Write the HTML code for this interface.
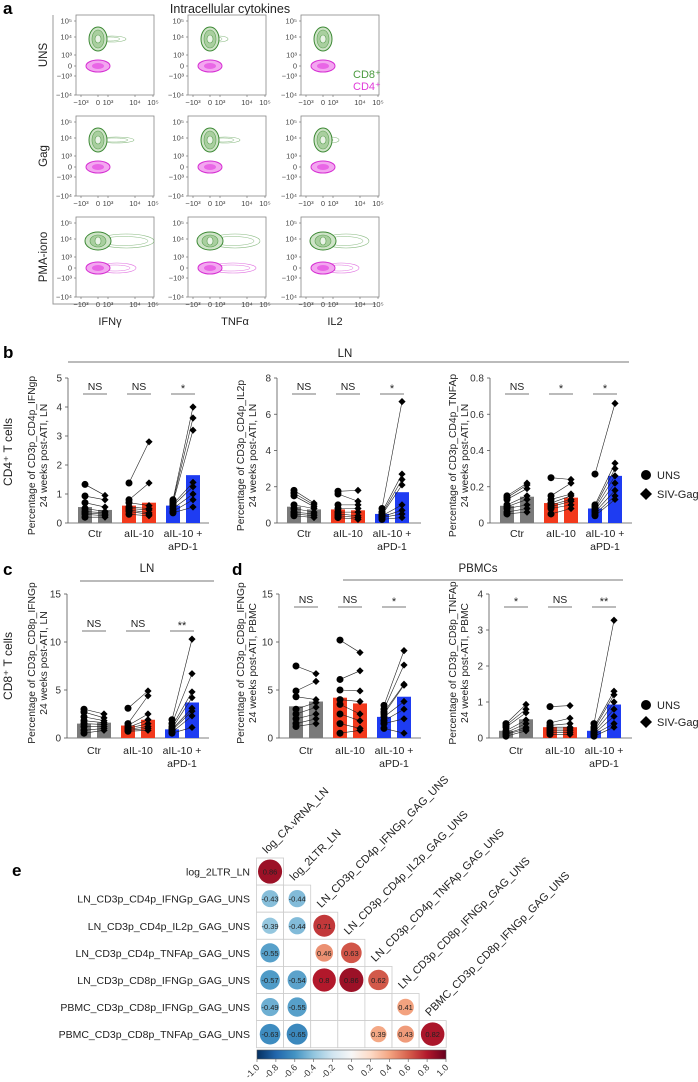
<!DOCTYPE html>
<html><head><meta charset="utf-8">
<style>
html,body{margin:0;padding:0;background:#fff;}
svg{display:block;font-family:"Liberation Sans",sans-serif;}
</style></head>
<body>
<svg id="fig" width="698" height="1082" viewBox="0 0 698 1082" xmlns="http://www.w3.org/2000/svg"></svg>
<script>
// ---------- DATA ----------
const groups = ["Ctr","aIL-10","aIL-10 +"];
// panel b1: CD4 IFNg LN
const b1Uns = [[1.33,0.93,0.7,0.5,0.4,0.35,0.3,0.2],[1.38,0.8,0.7,0.55,0.5,0.45,0.4,0.3],[0.8,0.75,0.7,0.65,0.6,0.5,0.4,0.35]];
const b1Gag = [[0.95,0.8,0.55,0.4,0.35,0.3,0.25,0.2],[2.8,1.38,0.6,0.5,0.45,0.35,0.3,0.25],[4.0,3.62,3.2,1.4,1.25,1.0,0.8,0.55]];
const b1BarU = [0.55,0.6,0.6];
const b1BarG = [0.45,0.7,1.65];
const b1Sig = ["NS","NS","*"];
const b1Ticks = [0,1,2,3,4,5];
// panel b2: CD4 IL2 LN
const b2Uns = [[1.8,1.65,1.5,1.0,0.8,0.6,0.5,0.4],[1.75,1.6,1.0,0.8,0.6,0.5,0.4,0.3],[0.8,0.6,0.5,0.45,0.4,0.35,0.3,0.2]];
const b2Gag = [[1.1,1.0,0.9,0.8,0.6,0.5,0.4,0.3],[1.8,1.2,1.0,0.8,0.6,0.4,0.3,0.2],[6.7,2.7,2.4,2.1,1.0,0.7,0.5,0.3]];
const b2BarU = [0.9,0.75,0.5];
const b2BarG = [0.75,0.7,1.7];
const b2Sig = ["NS","NS","*"];
const b2Ticks = [0,2,4,6,8];
// panel b3: CD4 TNF LN
const b3Uns = [[0.15,0.14,0.13,0.1,0.09,0.08,0.06,0.05],[0.25,0.15,0.13,0.11,0.1,0.09,0.08,0.05],[0.27,0.1,0.09,0.08,0.07,0.06,0.05,0.04]];
const b3Gag = [[0.22,0.21,0.19,0.15,0.13,0.1,0.08,0.06],[0.24,0.22,0.16,0.15,0.13,0.12,0.1,0.08],[0.66,0.33,0.3,0.26,0.22,0.18,0.15,0.13]];
const b3BarU = [0.095,0.11,0.08];
const b3BarG = [0.145,0.14,0.26];
const b3Sig = ["NS","*","*"];
const b3Ticks = [0,0.2,0.4,0.6,0.8];
// panel c: CD8 IFNg LN
const cUns = [[3.0,2.7,2.2,1.8,1.5,1.2,0.8,0.5],[3.1,1.5,1.3,1.1,1.0,0.9,0.8,0.7],[1.9,1.5,1.2,1.0,0.9,0.8,0.6,0.5]];
const cGag = [[2.5,2.1,1.8,1.6,1.4,1.2,1.0,0.8],[4.9,4.4,2.5,1.9,1.5,1.2,1.0,0.8],[10.3,6.7,4.8,4.2,3.1,2.8,2.3,1.1]];
const cBarU = [1.5,1.3,0.9];
const cBarG = [1.6,1.9,3.7];
const cSig = ["NS","NS","**"];
const cTicks = [0,5,10,15];
// panel d1: CD8 IFNg PBMC
const d1Uns = [[7.5,4.9,4.3,3.0,2.5,2.0,1.5,1.2],[10.2,6.1,5.0,4.0,3.5,2.5,1.5,0.5],[3.4,3.0,2.7,2.5,2.2,1.8,1.5,1.0]];
const d1Gag = [[6.7,5.9,4.0,3.7,3.2,2.5,2.0,1.5],[8.9,7.0,4.9,3.8,2.5,1.8,1.0,0.8],[9.1,7.6,5.6,5.5,3.8,3.0,2.0,0.5]];
const d1BarU = [3.3,4.2,2.2];
const d1BarG = [3.8,3.6,4.3];
const d1Sig = ["NS","NS","*"];
const d1Ticks = [0,5,10,15];
// panel d2: CD8 TNF PBMC
const d2Uns = [[0.4,0.35,0.3,0.2,0.15,0.12,0.1,0.05],[0.87,0.42,0.35,0.3,0.25,0.2,0.15,0.1],[0.4,0.3,0.25,0.2,0.15,0.12,0.1,0.05]];
const d2Gag = [[0.93,0.8,0.7,0.5,0.4,0.3,0.25,0.2],[0.9,0.55,0.4,0.3,0.25,0.2,0.15,0.1],[3.27,1.3,1.2,1.0,0.8,0.6,0.4,0.3]];
const d2BarU = [0.2,0.3,0.2];
const d2BarG = [0.52,0.3,0.93];
const d2Sig = ["*","NS","**"];
const d2Ticks = [0,1,2,3,4];
// panel e: correlation matrix
const corrCols = ["log_CA.vRNA_LN","log_2LTR_LN","LN_CD3p_CD4p_IFNGp_GAG_UNS","LN_CD3p_CD4p_IL2p_GAG_UNS","LN_CD3p_CD4p_TNFAp_GAG_UNS","LN_CD3p_CD8p_IFNGp_GAG_UNS","PBMC_CD3p_CD8p_IFNGp_GAG_UNS"];
const corrRows = ["log_2LTR_LN","LN_CD3p_CD4p_IFNGp_GAG_UNS","LN_CD3p_CD4p_IL2p_GAG_UNS","LN_CD3p_CD4p_TNFAp_GAG_UNS","LN_CD3p_CD8p_IFNGp_GAG_UNS","PBMC_CD3p_CD8p_IFNGp_GAG_UNS","PBMC_CD3p_CD8p_TNFAp_GAG_UNS"];
const corrVals = [[0.86],[-0.43,-0.44],[-0.39,-0.44,0.71],[-0.55,null,0.46,0.63],[-0.57,-0.54,0.8,0.86,0.62],[-0.49,-0.55,null,null,null,0.41],[-0.63,-0.65,null,null,0.39,0.43,0.82]];
const cbarTicks = [-1.0,-0.8,-0.6,-0.4,-0.2,0,0.2,0.4,0.6,0.8,1.0];

// ---------- helpers ----------
const svg = document.getElementById('fig');
const NS_ = "http://www.w3.org/2000/svg";
function el(tag, attrs, parent, text){
  const e = document.createElementNS(NS_, tag);
  for (const k in attrs) e.setAttribute(k, attrs[k]);
  if (text !== undefined) e.textContent = text;
  (parent||svg).appendChild(e);
  return e;
}
function grp(name, parent){
  const g = el('g', {}, parent);
  
  
  return g;
}
function txt(parent, x, y, s, size, opts){
  opts = opts||{};
  const t = el('text', {x:x, y:y, 'font-size':size, fill:opts.fill||'#222', 'text-anchor':opts.anchor||'start'}, parent, s);
  if (opts.weight) t.setAttribute('font-weight', opts.weight);
  if (opts.rot!==undefined) t.setAttribute('transform', `rotate(${opts.rot} ${x} ${y})`);
  
  
  return t;
}

// ---------- panel labels ----------
txt(svg, 3, 14, "a", 17, {weight:'bold', fill:'#000', name:'panel-label-a'});
txt(svg, 3, 358, "b", 17, {weight:'bold', fill:'#000', name:'panel-label-b'});
txt(svg, 3, 575, "c", 17, {weight:'bold', fill:'#000', name:'panel-label-c'});
txt(svg, 232, 575, "d", 17, {weight:'bold', fill:'#000', name:'panel-label-d'});
txt(svg, 12, 876, "e", 17, {weight:'bold', fill:'#000', name:'panel-label-e'});

// ---------- panel a: flow plots ----------
const pa = grp('panel-a-flow');
txt(pa, 230, 13, "Intracellular cytokines", 12.5, {anchor:'middle', name:'panel-a-title'});
el('path', {d:'M53 15 V304 H376', fill:'none', stroke:'#999', 'stroke-width':1}, pa);
const rowNames = ["UNS","Gag","PMA-iono"];
const colNames = ["IFNγ","TNFα","IL2"];
const boxX = [76, 188, 301];
const boxY = [15, 116, 217];
const BW = 78, BH = 80;
const greenTail = [[20,10,4],[28,22,8],[48,42,38]];
const pinkTail = [[4,2,2],[6,4,3],[30,38,28]];
rowNames.forEach((rn, ri)=>{
  txt(pa, 47, boxY[ri]+BH/2, rn, 11.5, {anchor:'middle', rot:-90, name:'row-label-'+rn.toLowerCase()});
  colNames.forEach((cn, ci)=>{
    const g = grp('flow-plot-'+rn.toLowerCase()+'-'+cn.toLowerCase(), pa);
    const x = boxX[ci], y = boxY[ri];
    el('rect', {x:x, y:y, width:BW, height:BH, fill:'#fff', stroke:'#888', 'stroke-width':0.8}, g);
    const yt = [["10⁵",6],["10⁴",22],["10³",40],["0",51],["−10³",61],["−10⁴",80]];
    yt.forEach(([s,o])=>{
      el('line',{x1:x-2,y1:y+o,x2:x,y2:y+o,stroke:'#666','stroke-width':0.6},g);
      txt(g, x-4, y+o+2.5, s, 7.5, {anchor:'end', fill:'#444', name:'y-tick'});
    });
    const xt = [["−10³",5],["0",22],["10³",32],["10⁴",59],["10⁵",77]];
    xt.forEach(([s,o])=>{
      el('line',{x1:x+o,y1:y+BH,x2:x+o,y2:y+BH+2,stroke:'#666','stroke-width':0.6},g);
      txt(g, x+o, y+BH+10, s, 7.5, {anchor:'middle', fill:'#444', name:'x-tick'});
    });
    const gx = x+22, gy = y+24, px = x+22, py = y+51;
    const gt = greenTail[ri][ci], pt = pinkTail[ri][ci];
    if (gt>6) el('ellipse',{cx:gx+gt/2+4,cy:gy,rx:gt/2+4,ry:ri==2?7:3,fill:'none',stroke:'#6aa860','stroke-width':0.6,opacity:0.8},g);
    if (gt>6) el('ellipse',{cx:gx+gt/2+2,cy:gy,rx:gt/2,ry:ri==2?4.5:2,fill:'none',stroke:'#6aa860','stroke-width':0.5,opacity:0.8},g);
    if (pt>6) el('ellipse',{cx:px+pt/2+4,cy:py,rx:pt/2+4,ry:5,fill:'none',stroke:'#e070e0','stroke-width':0.6},g);
    if (pt>6) el('ellipse',{cx:px+pt/2+2,cy:py,rx:pt/2,ry:3,fill:'none',stroke:'#e070e0','stroke-width':0.5},g);
    el('ellipse',{cx:gx,cy:gy,rx:ri==2?13:9,ry:ri==2?9:12,fill:'#cfe4c8',stroke:'#3e8a36','stroke-width':1},g);
    el('ellipse',{cx:gx,cy:gy,rx:ri==2?8:6,ry:ri==2?6:9,fill:'#a9cf9f',stroke:'#5c9f53','stroke-width':0.6},g);
    el('ellipse',{cx:gx,cy:gy,rx:3,ry:4,fill:'#e9f3e6',stroke:'#5c9f53','stroke-width':0.6},g);
    el('ellipse',{cx:px,cy:py,rx:12,ry:6,fill:'#f3a6f0',stroke:'#d630d3','stroke-width':1},g);
    el('ellipse',{cx:px,cy:py,rx:6,ry:3,fill:'#e966e6'},g);
  });
});
txt(pa, 353, 78, "CD8⁺", 11, {fill:'#4b9a3f', name:'legend-cd8'});
txt(pa, 353, 90, "CD4⁺", 11, {fill:'#e03ad9', name:'legend-cd4'});
colNames.forEach((cn,ci)=>txt(pa, [110,235,335][ci], 325, cn, 11, {anchor:'middle', name:'x-title-'+cn}));

// ---------- bar charts ----------
const colors = ['#7a7a7a','#f2391c','#1e3cf2'];
function diamond(x,y,r){ return `M${x} ${y-r} L${x+r} ${y} L${x} ${y+r} L${x-r} ${y} Z`; }
function barChart(name, ax, xEnd, yTop, y0, ticks, uns, gag, barU, barG, sig, sigY, t1, t2, tx, labY, tyOff){
  const g = grp(name);
  const ymax = ticks[ticks.length-1];
  const Y = v => y0 - (v/ymax)*(y0-yTop);
  const cx = i => ax + 27 + 44*i;
  el('line',{x1:ax,y1:yTop,x2:ax,y2:y0,stroke:'#555','stroke-width':0.8},g);
  el('line',{x1:ax,y1:y0,x2:xEnd,y2:y0,stroke:'#555','stroke-width':0.8},g);
  ticks.forEach(t=>{
    el('line',{x1:ax-3,y1:Y(t),x2:ax,y2:Y(t),stroke:'#555','stroke-width':0.8},g);
    txt(g, ax-6, Y(t)+3.5, String(t), 10, {anchor:'end', fill:'#333', name:'y-tick-label'});
  });
  groups.forEach((gn,i)=>{
    const c = cx(i);
    const bu = el('rect',{x:c-17,y:Y(barU[i]),width:14,height:y0-Y(barU[i]),fill:colors[i]},g);
    
    
    const bg = el('rect',{x:c+3,y:Y(barG[i]),width:14,height:y0-Y(barG[i]),fill:colors[i]},g);
    
    
    uns[i].forEach((v,k)=>{
      el('line',{x1:c-10,y1:Y(v),x2:c+10,y2:Y(gag[i][k]),stroke:'#222','stroke-width':0.6},g);
    });
    uns[i].forEach(v=>{
      const p = el('circle',{cx:c-10,cy:Y(v),r:3.5,fill:'#000'},g);
      
      
    });
    gag[i].forEach(v=>{
      const p = el('path',{d:diamond(c+10,Y(v),3.6),fill:'#000'},g);
      
      
    });
    el('line',{x1:c-12,y1:sigY,x2:c+12,y2:sigY,stroke:'#777','stroke-width':1},g);
    txt(g, c, sigY-(sig[i]=="NS"?4:2), sig[i], sig[i]=="NS"?10.5:11, {anchor:'middle', fill:'#222', name:'significance-label'});
    txt(g, c, labY, gn, 10.5, {anchor:'middle', fill:'#222', name:'category-label'});
    if (i==2) txt(g, c, labY+13, "aPD-1", 10.5, {anchor:'middle', fill:'#222', name:'category-label'});
  });
  const my = (yTop+y0)/2 + tyOff;
  txt(g, tx, my, t1, 10.3, {anchor:'middle', rot:-90, fill:'#222', name:'y-axis-title'});
  txt(g, tx+12, my, t2, 10.3, {anchor:'middle', rot:-90, fill:'#222', name:'y-axis-title'});
  return g;
}
barChart('chart-b-cd4-ifng', 68, 209, 378, 523, b1Ticks, b1Uns, b1Gag, b1BarU, b1BarG, b1Sig, 394, "Percentage of CD3p_CD4p_IFNgp", "24 weeks post-ATI, LN", 35, 537, 5);
barChart('chart-b-cd4-il2', 277, 421, 378, 523, b2Ticks, b2Uns, b2Gag, b2BarU, b2BarG, b2Sig, 394, "Percentage of CD3p_CD4p_IL2p", "24 weeks post-ATI, LN", 244, 537, 5);
barChart('chart-b-cd4-tnfa', 490, 632, 378, 523, b3Ticks, b3Uns, b3Gag, b3BarU, b3BarG, b3Sig, 394, "Percentage of CD3p_CD4p_TNFAp", "24 weeks post-ATI, LN", 456, 537, 5);
barChart('chart-c-cd8-ifng-ln', 67, 209, 594, 738, cTicks, cUns, cGag, cBarU, cBarG, cSig, 631, "Percentage of CD3p_CD8p_IFNGp", "24 weeks post-ATI, LN", 35, 754, -3);
barChart('chart-d-cd8-ifng-pbmc', 279, 421, 594, 738, d1Ticks, d1Uns, d1Gag, d1BarU, d1BarG, d1Sig, 607, "Percentage of CD3p_CD8p_IFNGp", "24 weeks post-ATI, PBMC", 244, 754, -3);
barChart('chart-d-cd8-tnfa-pbmc', 489, 632, 594, 738, d2Ticks, d2Uns, d2Gag, d2BarU, d2BarG, d2Sig, 607, "Percentage of CD3p_CD8p_TNFAp", "24 weeks post-ATI, PBMC", 456, 754, -3);

const hb = grp('panel-b-header');
el('line',{x1:68,y1:362,x2:629,y2:362,stroke:'#777','stroke-width':1},hb);
txt(hb, 345, 357, "LN", 11.5, {anchor:'middle', name:'header-ln'});
txt(hb, 12, 452, "CD4⁺ T cells", 12, {anchor:'middle', rot:-90, name:'cd4-title'});
const hc = grp('panel-c-header');
el('line',{x1:80,y1:581,x2:214,y2:581,stroke:'#777','stroke-width':1},hc);
txt(hc, 147, 572, "LN", 11.5, {anchor:'middle', name:'header-ln'});
txt(hc, 12, 666, "CD8⁺ T cells", 12, {anchor:'middle', rot:-90, name:'cd8-title'});
const hd = grp('panel-d-header');
el('line',{x1:343,y1:580,x2:623,y2:580,stroke:'#777','stroke-width':1},hd);
txt(hd, 478, 572, "PBMCs", 11.5, {anchor:'middle', name:'header-pbmcs'});

function legend(y1,y2,name){
  const g = grp(name);
  el('circle',{cx:646,cy:y1,r:5,fill:'#000'},g);
  txt(g, 657, y1+4, "UNS", 11, {name:'legend-uns'});
  el('path',{d:diamond(646,y2,6),fill:'#000'},g);
  txt(g, 657, y2+4, "SIV-Gag", 11, {name:'legend-siv-gag'});
}
legend(475,494,'legend-b');
legend(705,722,'legend-d');

// ---------- panel e ----------
const pe = grp('panel-e-corr');
const cx0 = 256.5, cy0 = 858, CS = 27.1;
const stops = [[-1,[5,48,97]],[-0.8,[33,102,172]],[-0.6,[67,147,195]],[-0.4,[146,197,222]],[-0.2,[209,229,240]],[0,[247,247,247]],[0.2,[253,219,199]],[0.4,[244,165,130]],[0.6,[214,96,77]],[0.8,[178,24,43]],[1,[103,0,31]]];
function cmap(v){
  for (let i=0;i<stops.length-1;i++){
    const [a,ca]=stops[i],[b,cb]=stops[i+1];
    if (v>=a && v<=b){ const t=(v-a)/(b-a); return `rgb(${ca.map((c,j)=>Math.round(c+(cb[j]-c)*t)).join(',')})`; }
  }
  return 'rgb(103,0,31)';
}
corrRows.forEach((rn,ri)=>{
  txt(pe, 250, cy0+CS*ri+CS/2+4, rn, 10.5, {anchor:'end', name:'row-label'});
  corrVals[ri].forEach((v,ci)=>{
    const x = cx0+CS*ci, y = cy0+CS*ri;
    el('rect',{x:x,y:y,width:CS,height:CS,fill:'#fff',stroke:'#ccc','stroke-width':0.8},pe);
    if (v===null) return;
    const c = el('circle',{cx:x+CS/2,cy:y+CS/2,r:13*Math.sqrt(Math.abs(v)),fill:cmap(v)},pe);
    
    
    txt(pe, x+CS/2, y+CS/2+3, String(v), 7.5, {anchor:'middle', fill:'#222', name:'corr-value'});
  });
});
corrCols.forEach((cn,ci)=>{
  const x = cx0+CS*ci+CS/2-3, y = cy0+CS*ci-4;
  txt(pe, x, y, cn, 11, {rot:-45, name:'column-label'});
});
const defs = el('defs',{},pe);
const lg = el('linearGradient',{id:'rdbu',x1:'0',x2:'1',y1:'0',y2:'0'},defs);
stops.forEach(([v,c])=>el('stop',{offset:((v+1)/2*100)+'%','stop-color':`rgb(${c.join(',')})`},lg));
const cb = el('rect',{x:257,y:1050,width:189,height:9,fill:'url(#rdbu)',stroke:'#555','stroke-width':0.6},pe);


cbarTicks.forEach(t=>{
  const x = 257 + (t+1)/2*189;
  el('line',{x1:x,y1:1059,x2:x,y2:1062,stroke:'#555','stroke-width':0.6},pe);
  txt(pe, x+3, 1068, t===0?"0":t.toFixed(1), 9, {anchor:'end', rot:-45, fill:'#333', name:'colorbar-tick'});
});
</script>
</body></html>
